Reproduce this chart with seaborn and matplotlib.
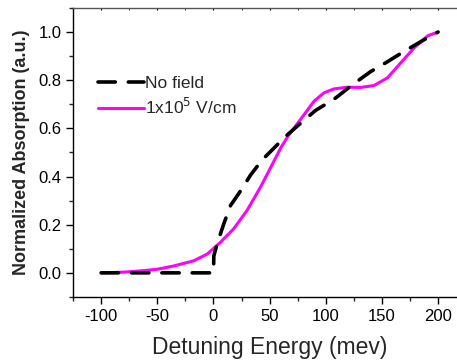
import matplotlib
matplotlib.use("Agg")
import matplotlib.pyplot as plt
import seaborn as sns
import pandas as pd
from matplotlib.ticker import MultipleLocator

# Data
x_nofield = [-100, -50, -10, 0, 0.3, 2, 4.7, 9.2, 15.2, 23.5, 33, 43.5, 50, 64, 76, 91, 104.5, 109, 124, 140, 153.6, 170.5, 193.75, 200]
y_nofield = [0.0, 0.0, 0.0, 0.0, 0.07, 0.1, 0.141, 0.204, 0.28, 0.336, 0.406, 0.47, 0.5, 0.566, 0.615, 0.675, 0.713, 0.727, 0.782, 0.836, 0.873, 0.922, 0.985, 1.0]

x_field = [-100, -80, -65, -50, -35, -17.6, -5.6, 6.25, 18, 30, 42, 54, 60, 67, 78, 89.6, 98.5, 107.4, 119.4, 131, 143, 155, 167, 179, 191, 200]
y_field = [0.0, 0.003, 0.008, 0.015, 0.029, 0.05, 0.078, 0.127, 0.183, 0.26, 0.357, 0.465, 0.52, 0.572, 0.64, 0.713, 0.748, 0.764, 0.771, 0.770, 0.778, 0.81, 0.873, 0.936, 0.985, 1.0]

labels = ["No field", "1x10$^5$ V/cm"]
xticks = [-100, -50, 0, 50, 100, 150, 200]
yticks = [0.0, 0.2, 0.4, 0.6, 0.8, 1.0]

df = pd.concat([
    pd.DataFrame({"x": x_nofield, "y": y_nofield, "s": labels[0]}),
    pd.DataFrame({"x": x_field, "y": y_field, "s": labels[1]}),
])

sns.set_style("ticks")
plt.rcParams["font.family"] = ["Liberation Sans", "DejaVu Sans"]

fig = plt.figure(figsize=(4.57, 3.63), dpi=100)
ax = fig.add_axes([0.16, 0.182, 0.86, 0.796])

sns.lineplot(data=df[df.s == labels[0]], x="x", y="y", color="black", lw=2.6,
             ax=ax, label=labels[0], sort=False, estimator=None)
sns.lineplot(data=df[df.s == labels[1]], x="x", y="y", color="#FF00FF", lw=2.2,
             ax=ax, label=labels[1], sort=False, estimator=None)
l0 = ax.lines[0]
l0.set_dashes((4.8, 3.6))
l0.set_dash_capstyle("round")
l0.set_zorder(3)
ax.lines[1].set_zorder(2)
ax.lines[1].set_solid_joinstyle("round")

ax.set_xlim(-125, 225)
ax.set_ylim(-0.1, 1.1)
ax.set_xticks(xticks)
ax.set_yticks(yticks)
ax.set_xticklabels([str(t) for t in xticks])
ax.set_yticklabels([f"{t:.1f}" for t in yticks])
ax.xaxis.set_minor_locator(MultipleLocator(25))
ax.yaxis.set_minor_locator(MultipleLocator(0.1))
ax.tick_params(which="major", direction="out", length=5, width=1, labelsize=12, colors="black")
ax.tick_params(which="minor", direction="out", length=3, width=1)
for s in ax.spines.values():
    s.set_color("black")
    s.set_linewidth(1)
ax.spines["top"].set_color("#555555")

top = ax.secondary_xaxis("top")
top.set_xticks(xticks)
top.xaxis.set_minor_locator(MultipleLocator(25))
top.tick_params(which="both", direction="in", length=1.5, labeltop=False, colors="black")
top.spines["top"].set_visible(False)

ax.set_xlabel("Detuning Energy (mev)", fontsize=16.5, labelpad=9)
ax.set_ylabel("Normalized Absorption (a.u.)", fontsize=13, fontweight="bold", labelpad=6)

leg = ax.legend(loc="upper left", bbox_to_anchor=(0.045, 0.79), frameon=False,
                fontsize=12.5, handlelength=2.65, handletextpad=0.1, labelspacing=0.35,
                borderaxespad=0)

fig.savefig("out.png", dpi=100)
